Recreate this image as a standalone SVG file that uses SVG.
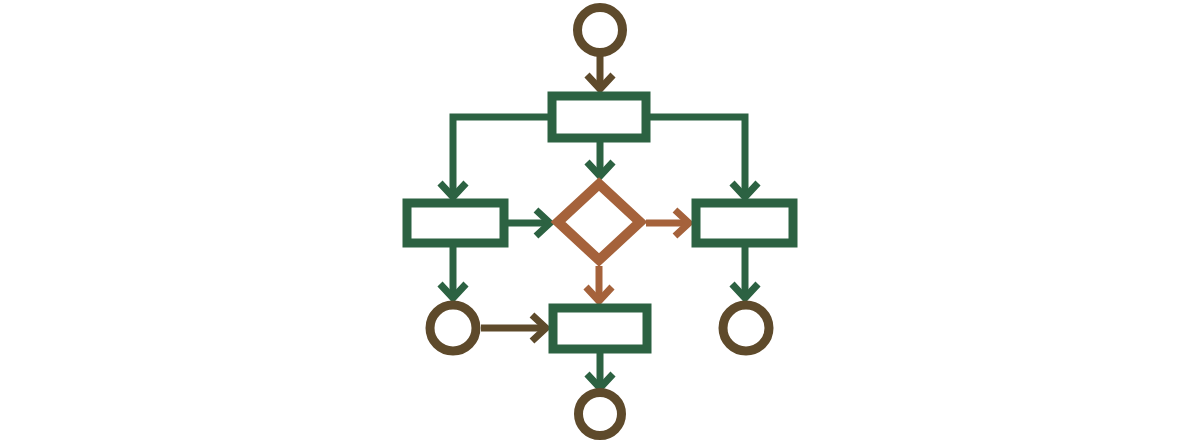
<svg xmlns="http://www.w3.org/2000/svg" width="1200" height="446" viewBox="0 0 1200 446">
<style>
.g{stroke:#2c6242;fill:none}
.b{stroke:#5e4a2b;fill:none}
.o{stroke:#a5623b;fill:none}
.node{fill:#fff;stroke-width:9}
.ln{stroke-width:7;fill:none}
.hd{stroke-width:7;fill:none;stroke-linejoin:miter}
</style>
<rect width="1200" height="446" fill="#fff"/>
<g id="connectors">
<path class="b ln" d="M600 53 V89"/><path class="b hd" d="M587 75 L600 89 L613 75"/>
<path class="g ln" d="M548 117 H453 V197"/><path class="g hd" d="M440 183 L453 197 L466 183"/>
<path class="g ln" d="M650 117 H745 V197"/><path class="g hd" d="M732 183 L745 197 L758 183"/>
<path class="g ln" d="M600 142 V176"/><path class="g hd" d="M587 162 L600 176 L613 162"/>
<path class="g ln" d="M508 223 H550"/><path class="g hd" d="M536 210 L550 223 L536 236"/>
<path class="o ln" d="M646 223 H689"/><path class="o hd" d="M675 210 L689 223 L675 236"/>
<path class="o ln" d="M599 266 V301"/><path class="o hd" d="M586 287 L599 301 L612 287"/>
<path class="g ln" d="M453 247 V298"/><path class="g hd" d="M440 284 L453 298 L466 284"/>
<path class="g ln" d="M745 247 V298"/><path class="g hd" d="M732 284 L745 298 L758 284"/>
<path class="b ln" d="M481 328 H546"/><path class="b hd" d="M532 315 L546 328 L532 341"/>
<path class="g ln" d="M600 353 V388"/><path class="g hd" d="M587 374 L600 388 L613 374"/>
</g>
<g id="start"><circle class="b node" cx="600" cy="30" r="22.5"/></g>
<g id="box-top"><rect class="g node" x="552" y="96" width="94" height="42"/></g>
<g id="box-left"><rect class="g node" x="407" y="203" width="97" height="40"/></g>
<g id="decision"><polygon class="o node" style="stroke-width:10" points="599,184 640,222 599,260 558,222"/></g>
<g id="box-right"><rect class="g node" x="696" y="203" width="97" height="40"/></g>
<g id="circle-left"><circle class="b node" cx="453" cy="328" r="23"/></g>
<g id="circle-right"><circle class="b node" cx="746" cy="328" r="23"/></g>
<g id="box-bottom"><rect class="g node" x="553" y="308" width="94" height="41"/></g>
<g id="end"><circle class="b node" cx="600" cy="414" r="21.5"/></g>
</svg>
